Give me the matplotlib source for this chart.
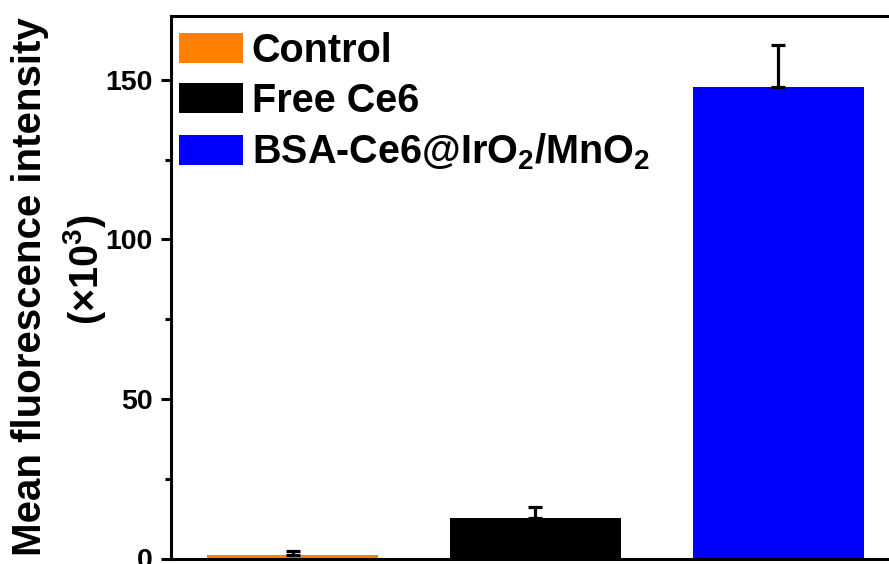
import matplotlib
matplotlib.use("Agg")
import matplotlib.pyplot as plt
from matplotlib.ticker import MultipleLocator

plt.rcParams['font.family'] = ['Liberation Sans', 'DejaVu Sans']
plt.rcParams['font.weight'] = 'bold'
plt.rcParams['mathtext.fontset'] = 'custom'
plt.rcParams['mathtext.rm'] = 'Liberation Sans:bold'
plt.rcParams['mathtext.bf'] = 'Liberation Sans:bold'
plt.rcParams['mathtext.default'] = 'rm'

groups = ["Control", "Free Ce6", "BSA-Ce6@IrO$_2$/MnO$_2$"]
means = [1.0, 12.8, 147.9]
errors = [1.3, 3.2, 13.0]
colors = ["#FF8000", "#000000", "#0000FF"]

W, H = 889, 564
fig = plt.figure(figsize=(W / 100, H / 100), dpi=100)
ax = fig.add_axes([171 / W, 5.5 / H, 729 / W, 542.5 / H])

x = [1, 2, 3]
bars = ax.bar(x, means, width=0.7, color=colors, label=groups, zorder=2)
ax.errorbar(x, means, yerr=[[0, 0, 0], errors], fmt='none', ecolor='black',
            elinewidth=2.3, capsize=4.7, capthick=2.3, zorder=3)

ax.set_xlim(0.5, 3.5)
ax.set_ylim(0, 170)
ax.set_xticks([])
ax.yaxis.set_major_locator(MultipleLocator(50))
ax.yaxis.set_minor_locator(MultipleLocator(25))
ax.tick_params(axis='y', which='major', direction='out', length=7, width=2.2,
               labelsize=20.5, pad=6)
ax.tick_params(axis='y', which='minor', direction='out', length=4, width=2.2)
for s in ax.spines.values():
    s.set_linewidth(2.2)

leg = ax.legend(handles=list(bars), labels=groups, loc='upper left',
                bbox_to_anchor=(179 / W, 1 - 32 / H), bbox_transform=fig.transFigure,
                frameon=False, fontsize=28.5, handlelength=1.62, handleheight=0.78,
                handletextpad=0.22, labelspacing=0.3, borderpad=0, borderaxespad=0)

fig.text(30 / W, 1 - 287 / H, "Mean fluorescence intensity", rotation=90,
         ha='center', va='center', fontsize=29, fontweight='bold')
fig.text(85 / W, 1 - 270 / H, "(×10$^3$)", rotation=90,
         ha='center', va='center', fontsize=28.5, fontweight='bold')

fig.savefig("out.png", dpi=100)
